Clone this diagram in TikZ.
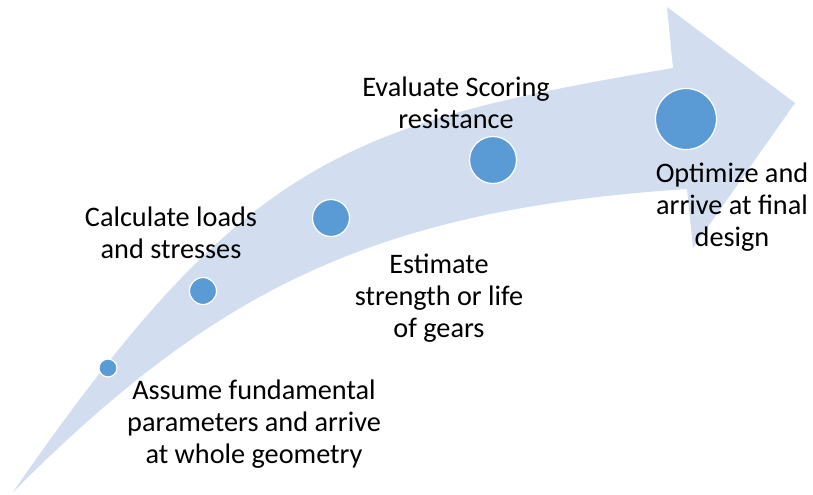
\documentclass[tikz,border=0pt]{standalone}
\usepackage{fontspec}
\setmainfont{Carlito}
\definecolor{bandfill}{HTML}{D2DEEF}
\definecolor{dotfill}{HTML}{5B9BD5}
\begin{document}
\begin{tikzpicture}[x=0.75pt,y=-0.75pt,
  stepdot/.style={circle,fill=dotfill,draw=white,line width=0.9pt,inner sep=0pt},
  steplabel/.style={align=center,inner sep=0pt,text=black,
    font=\fontsize{21.2}{23.8}\selectfont}]
\useasboundingbox (0,0) rectangle (813,494);

% curved sweeping arrow
\fill[bandfill] (13,492) .. controls (243,160) and (342,124) .. (673,68)
  -- (667,7) -- (795,103) -- (693,248) -- (687,189)
  .. controls (370,210) and (213,292) .. (13,492) -- cycle;

% milestones along the arrow
\node[stepdot,minimum size=18pt*0.75] (d1) at (108,368) {};
\node[stepdot,minimum size=27pt*0.75] (d2) at (203,291) {};
\node[stepdot,minimum size=37pt*0.75] (d3) at (331,218) {};
\node[stepdot,minimum size=47pt*0.75] (d4) at (493,160) {};
\node[stepdot,minimum size=61pt*0.75] (d5) at (686,119) {};

% step descriptions
\node[steplabel] (t1) at (254,424) {Assume fundamental\\parameters and arrive\\at whole geometry};
\node[steplabel] (t2) at (171,233) {Calculate loads\\and stresses};
\node[steplabel] (t3) at (439,298) {Estimate\\strength or life\\of gears};
\node[steplabel] (t4) at (456,103) {Evaluate Scoring\\resistance};
\node[steplabel] (t5) at (732,207) {Optimize and\\arrive at final\\design};
\end{tikzpicture}
\end{document}
